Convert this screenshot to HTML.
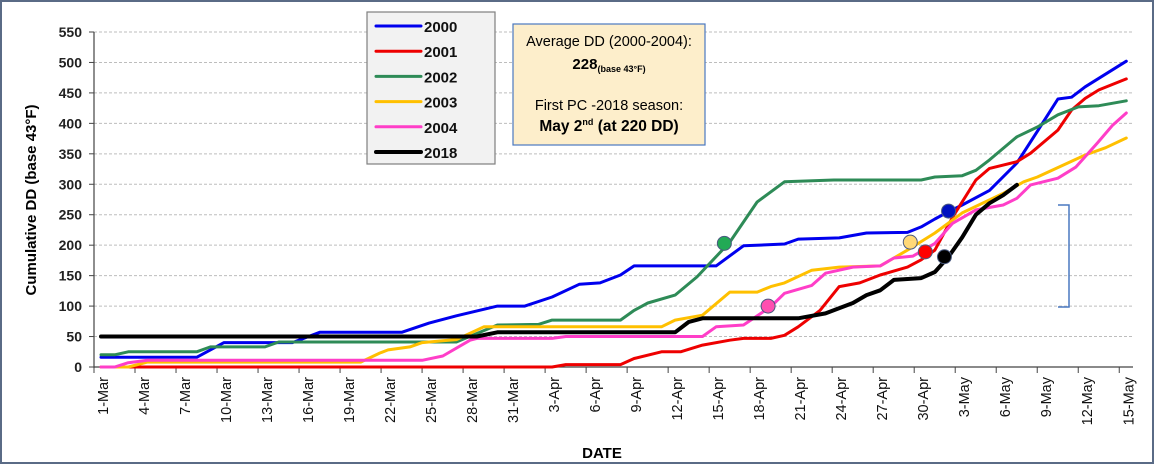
<!DOCTYPE html>
<html><head><meta charset="utf-8"><style>
html,body{margin:0;padding:0;background:#fff;}
svg{display:block;font-family:"Liberation Sans",Arial,sans-serif;}
</style></head><body>
<svg id="chart" width="1154" height="464" viewBox="0 0 1154 464">
<rect x="1" y="1" width="1152" height="462" fill="#fff" stroke="#5a6b86" stroke-width="2"/>
<g id="grid"></g>
<g id="axes"></g>
<g id="series"></g>
<g id="markers"></g>
<path d="M1058,205 L1069,205 L1069,307 L1058,307" fill="none" stroke="#4a78c0" stroke-width="1.5"/>
<text transform="translate(36,200) rotate(-90)" text-anchor="middle" font-size="15" font-weight="bold" fill="#000">Cumulative DD (base 43°F)</text>
<text x="602" y="458" text-anchor="middle" font-size="15" font-weight="bold">DATE</text>
<g>
<rect x="367" y="12" width="128" height="152" fill="#f2f2f2" stroke="#7f7f7f" stroke-width="1.2"/>
<g id="legend-items"></g>
</g>
<g>
<rect x="513" y="24" width="192" height="121" fill="#fdeecb" stroke="#4a78c0" stroke-width="1.2"/>
<text x="609" y="46" text-anchor="middle" font-size="14.5">Average DD (2000-2004):</text>
<text x="609" y="69" text-anchor="middle" font-size="15" font-weight="bold">228<tspan font-size="9" dy="3">(base 43°F)</tspan></text>
<text x="609" y="110" text-anchor="middle" font-size="14.5">First PC -2018 season:</text>
<text x="609" y="131" text-anchor="middle" font-size="15.5" font-weight="bold">May 2<tspan font-size="9" dy="-6">nd</tspan><tspan dy="6"> (at 220 DD)</tspan></text>
</g>
</svg>
<script>
const yTicks = [0,50,100,150,200,250,300,350,400,450,500,550];
const tickDays = [0,3,6,9,12,15,18,21,24,27,30,33,36,39,42,45,48,51,54,57,60,63,66,69,72,75];
const tickLabels = ["1-Mar","4-Mar","7-Mar","10-Mar","13-Mar","16-Mar","19-Mar","22-Mar","25-Mar","28-Mar","31-Mar","3-Apr","6-Apr","9-Apr","12-Apr","15-Apr","18-Apr","21-Apr","24-Apr","27-Apr","30-Apr","3-May","6-May","9-May","12-May","15-May"];
const seriesNames = ["2000","2001","2002","2003","2004","2018"];
const seriesColors = ["#0000ee","#ee0000","#2e8b57","#ffc000","#ff3ec8","#000000"];
const s2000 = [[0,16],[7,16],[9,40],[14,40],[16,57],[22,57],[24,72],[26,84],[29,100],[31,100],[33,115],[35,136],[36.5,138],[38,151],[39,166],[45,166],[47,199],[50,202],[51,210],[54,212],[56,220],[59,221],[60,230],[61,243],[62,255],[63,266],[65,290],[67,335],[68.7,394],[70,440],[71,443],[72,460],[75,502]];
const s2001 = [[0,0],[33,0],[34,4],[38,4],[39,14],[41,25],[42.4,25],[44,36],[46,44],[47,47],[49,47],[50,52],[51,66],[52.6,93],[54,132],[55.5,138],[57,151],[59,164],[60,176],[61,192],[62.3,246],[64,307],[65,326],[67,337],[68,351],[70,389],[71,422],[72,441],[73,455],[75,473]];
const s2002 = [[0,20],[1,20],[2,25],[7,25],[8,33],[12,33],[13,41],[26,41],[29,69],[32,70],[33,77],[38,77],[39,93],[40,105],[42,118],[43.6,148],[46,205],[48,271],[50,304],[53.6,307],[60,307],[61,312],[63,314],[64,323],[65,340],[67,378],[68.5,394],[70,414],[71.5,427],[73,429],[75,437]];
const s2003 = [[0,0],[2,0],[3.4,8],[19,8],[20.4,23],[21,28],[22.6,33],[23.5,40],[25,43],[26,45],[28,66],[41,66],[42,77],[44,85],[46,123],[48,123],[49,132],[50,138],[52,159],[54,164],[57,166],[59,192],[61,220],[63,253],[66,285],[67.5,304],[68.5,312],[72,348],[73.5,360],[75,376]];
const s2004 = [[0,0],[1,0],[2,7],[3.4,11],[23.5,11],[25,18],[27,44],[27.5,47],[33,47],[34,50],[44,50],[45,66],[47,69],[49,99],[50,121],[52,134],[53,154],[55,164],[57,166],[58,179],[59.4,182],[61,203],[62.3,236],[64,258],[66,266],[67,277],[68,299],[70,310],[71.3,328],[72.9,368],[74,397],[75,417]];
const s2018 = [[0,50],[27.5,50],[29,57],[42,57],[43,74],[44,80],[51,80],[53,88],[55,105],[56,118],[57,126],[58,143],[60,146],[61,156],[62,181],[63,213],[64,250],[65,269],[66,282],[67,299]];
const markerSeries = [2,4,3,1,0,5];
const markerDays = [45.6,48.8,59.2,60.3,62,61.7];
const markerValues = [203,100,205,189,256,181];
const markerFills = ["#22aa55","#ff4fb0","#ffd878","#ff0000","#0010c0","#000000"];

const NS="http://www.w3.org/2000/svg";
function X(d){return 101+13.67*d;}
function Y(v){return 367-v*0.6091;}
function mk(tag,attrs,parent){const e=document.createElementNS(NS,tag);for(const k in attrs)e.setAttribute(k,attrs[k]);parent.appendChild(e);return e;}
const grid=document.getElementById('grid'),axes=document.getElementById('axes'),ser=document.getElementById('series'),mkG=document.getElementById('markers'),leg=document.getElementById('legend-items');
const xEnd=1133;
yTicks.forEach(v=>{
  if(v>0){const g=mk('line',{x1:94,x2:xEnd,y1:Y(v),y2:Y(v),stroke:'#bdbdbd','stroke-width':1,'stroke-dasharray':'3,2'},grid);
  
  }
  const t=mk('text',{x:82,y:Y(v)+5,'text-anchor':'end','font-size':14,'font-weight':'bold',fill:'#222'},axes);
  t.textContent=v;
  
  
  const tk=mk('line',{x1:89,x2:94,y1:Y(v),y2:Y(v),stroke:'#444'},axes);
  
  
});
const ya=mk('line',{x1:94,x2:94,y1:Y(550),y2:368,stroke:'#444','stroke-width':1.2},axes);


const xa=mk('line',{x1:94,x2:xEnd,y1:367,y2:367,stroke:'#444','stroke-width':1.2},axes);


tickDays.forEach((d,i)=>{
  const tx=X(d)-7;
  const tk=mk('line',{x1:tx,x2:tx,y1:367,y2:373,stroke:'#444'},axes);
  
  
  const lx=X(d)+7;
  const t=mk('text',{transform:'translate('+lx+',377) rotate(-90)','text-anchor':'end','font-size':14.5,fill:'#111'},axes);
  t.textContent=tickLabels[i];
  
  
});
const allSeries=[s2000,s2001,s2002,s2003,s2004,s2018];
allSeries.forEach((s,i)=>{
  const p=mk('polyline',{points:s.map(q=>X(q[0]).toFixed(1)+','+Y(q[1]).toFixed(1)).join(' '),fill:'none',stroke:seriesColors[i],'stroke-width':i==5?4:3,'stroke-linejoin':'round','stroke-linecap':'round'},ser);
  
  
  const ly=26+i*25.2;
  const l=mk('line',{x1:376,x2:421,y1:ly,y2:ly,stroke:seriesColors[i],'stroke-width':i==5?4:3,'stroke-linecap':'round'},leg);
  
  
  const t=mk('text',{x:424,y:ly+6,'font-size':15,'font-weight':'bold',fill:'#111'},leg);
  t.textContent=seriesNames[i];
  
  
});
markerDays.forEach((d,i)=>{
  const c=mk('circle',{cx:X(d),cy:Y(markerValues[i]),r:7,fill:markerFills[i],stroke:'#4a5a80','stroke-width':1},mkG);
  
  
});
</script>
</body></html>
